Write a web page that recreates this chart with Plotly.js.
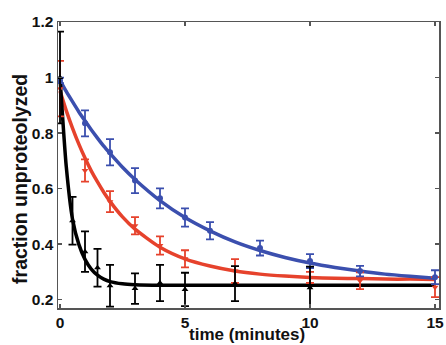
<!DOCTYPE html>
<html>
<head>
<meta charset="utf-8">
<script src="https://cdn.plot.ly/plotly-3.0.1.min.js"></script>
<style>html,body{margin:0;padding:0;background:#fff;}#chart{width:446px;height:345px;}</style>
</head>
<body>
<div id="chart"></div>
<script>
// Measured data (fraction unproteolyzed vs time in minutes)
const blueX = [0, 1, 2, 3, 4, 5, 6, 8, 10, 12, 15];
const blueY = [0.99, 0.835, 0.731, 0.629, 0.565, 0.496, 0.448, 0.386, 0.339, 0.303, 0.281];
const blueErr = [0.01, 0.047, 0.047, 0.045, 0.036, 0.033, 0.031, 0.027, 0.025, 0.019, 0.025];

const redX = [0, 1, 2, 3, 4, 5, 7, 10, 12, 15];
const redY = [0.96, 0.665, 0.553, 0.466, 0.395, 0.347, 0.303, 0.28, 0.268, 0.245];
const redErr = [0.1, 0.04, 0.038, 0.031, 0.033, 0.031, 0.043, 0.02, 0.03, 0.036];

const blackX = [0, 0.5, 1, 1.5, 2, 3, 4, 5, 7, 10];
const blackY = [1.0, 0.484, 0.373, 0.315, 0.25, 0.24, 0.26, 0.237, 0.258, 0.243];
const blackErr = [0.165, 0.086, 0.073, 0.068, 0.075, 0.055, 0.065, 0.06, 0.063, 0.076];

// Fitted curves
const fitT = [0, 0.25, 0.5, 0.75, 1, 1.25, 1.5, 1.75, 2, 2.5, 3, 4, 5, 6, 7, 8, 9, 10, 11, 12, 13, 14, 15];
const blueFit = [0.99, 0.95, 0.913, 0.877, 0.844, 0.812, 0.782, 0.753, 0.727, 0.677, 0.633, 0.557, 0.496, 0.448, 0.408, 0.377, 0.352, 0.332, 0.316, 0.303, 0.292, 0.284, 0.277];
const redFit = [0.952, 0.881, 0.818, 0.761, 0.71, 0.664, 0.624, 0.587, 0.554, 0.498, 0.454, 0.389, 0.347, 0.321, 0.303, 0.292, 0.285, 0.28, 0.277, 0.276, 0.274, 0.274, 0.273];
const blackFit = [1.0, 0.68, 0.49, 0.40, 0.345, 0.31, 0.288, 0.274, 0.265, 0.257, 0.254, 0.252, 0.252, 0.252, 0.252, 0.252, 0.252, 0.252, 0.252, 0.252, 0.252, 0.252, 0.252];

const xTicks = [0, 5, 10, 15];
const yTicks = [0.2, 0.4, 0.6, 0.8, 1, 1.2];
const xTitle = 'time (minutes)';
const yTitle = 'fraction unproteolyzed';

const BLUE = '#3b4fae';
const RED = '#e6422c';
const BLACK = '#000000';
const FAM = 'Liberation Sans, Arial, sans-serif';

function fitTrace(y, color) {
  return {x: fitT, y: y, mode: 'lines', line: {color: color, width: 3.5, shape: 'spline', smoothing: 0.6}, hoverinfo: 'skip', showlegend: false};
}
function dataTrace(x, y, e, color, symbol) {
  return {x: x, y: y, mode: 'markers', marker: {color: color, size: 6, symbol: symbol},
    error_y: {type: 'data', array: e, visible: true, color: color, thickness: 1.8, width: 4}, showlegend: false};
}

const traces = [
  fitTrace(redFit, RED),
  fitTrace(blueFit, BLUE),
  fitTrace(blackFit, BLACK),
  dataTrace(redX, redY, redErr, RED, 'triangle-down'),
  dataTrace(blueX, blueY, blueErr, BLUE, 'circle'),
  dataTrace(blackX, blackY, blackErr, BLACK, 'triangle-up')
];

const axisFont = {family: FAM, size: 15.5, color: '#111', weight: 'bold'};
const layout = {
  width: 446, height: 345,
  margin: {l: 58, r: 7, t: 22, b: 37},
  paper_bgcolor: '#fff', plot_bgcolor: '#fff',
  showlegend: false,
  xaxis: {
    range: [-0.08, 15.16], tickvals: xTicks, ticktext: xTicks.map(String),
    ticks: 'inside', ticklen: 4, tickwidth: 1.3, tickcolor: '#555',
    showline: true, linecolor: '#555', linewidth: 1.5, mirror: 'ticks',
    showgrid: false, zeroline: false, tickfont: axisFont
  },
  yaxis: {
    range: [0.17, 1.2], tickvals: yTicks, ticktext: ['0.2', '0.4', '0.6', '0.8', '1', '1.2'],
    ticks: 'inside', ticklen: 4, tickwidth: 1.3, tickcolor: '#555',
    showline: true, linecolor: '#555', linewidth: 1.5, mirror: 'ticks',
    showgrid: false, zeroline: false, tickfont: axisFont
  },
  annotations: [
    {text: xTitle, xref: 'paper', yref: 'paper', x: 0.497, y: -0.093, xanchor: 'center', yanchor: 'middle',
     showarrow: false, font: {family: FAM, size: 17, color: '#111', weight: 'bold'}},
    {text: yTitle, xref: 'paper', yref: 'paper', x: -0.1, y: 0.451, xanchor: 'center', yanchor: 'middle',
     textangle: -90, showarrow: false, font: {family: FAM, size: 19.5, color: '#111', weight: 'bold'}}
  ]
};

Plotly.newPlot('chart', traces, layout, {displayModeBar: false, staticPlot: true});
</script>
</body>
</html>
